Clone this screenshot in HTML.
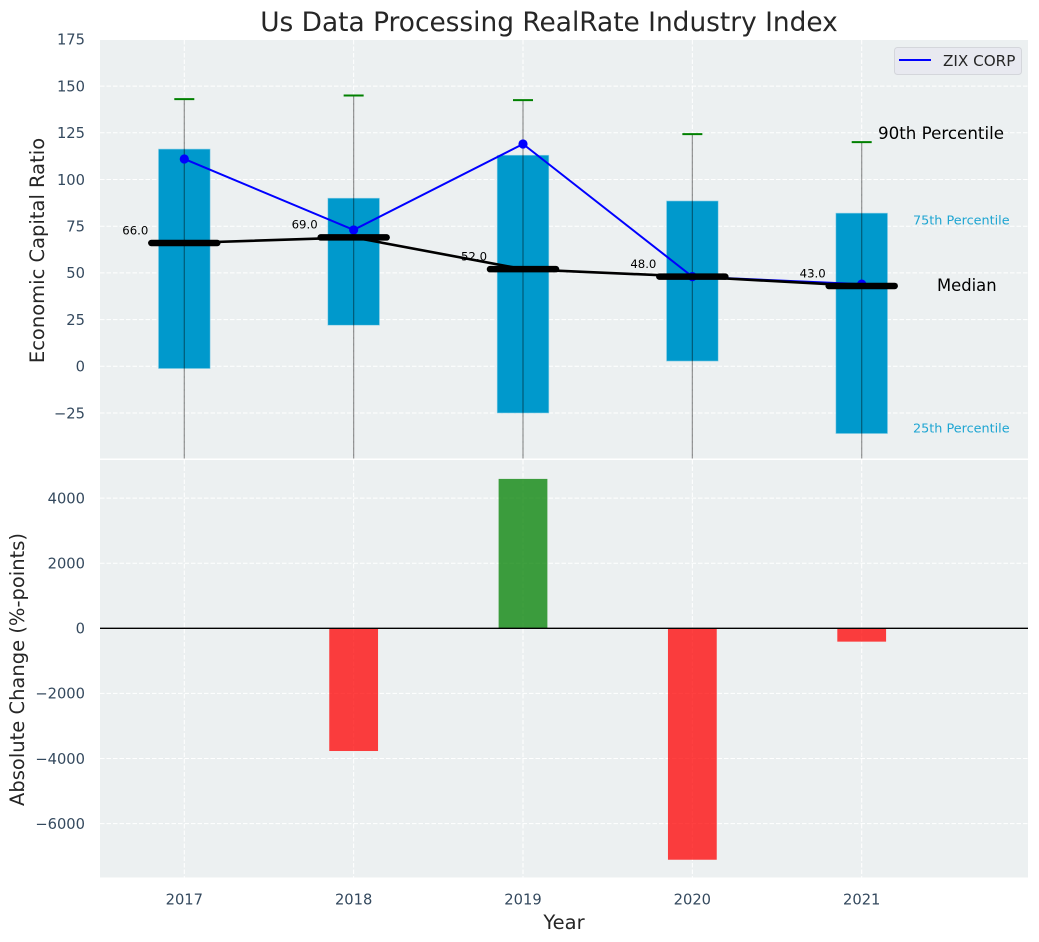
<!DOCTYPE html>
<html lang="en">
<head>
<meta charset="utf-8">
<title>Us Data Processing RealRate Industry Index</title>
<style>
html,body{margin:0;padding:0;background:#fff;width:1039px;height:942px;overflow:hidden}
svg{display:block;font-family:"DejaVu Sans","Liberation Sans",sans-serif}
</style>
</head>
<body>
<svg id="chart" width="1039" height="942" viewBox="0 0 1039 942" xmlns="http://www.w3.org/2000/svg">
  <text x="549" y="31" text-anchor="middle" font-size="26.4px" fill="#262626">Us Data Processing RealRate Industry Index</text>
  <rect x="100" y="40" width="928" height="418.5" fill="#ecf0f1"/>
  <rect x="100" y="460" width="928" height="417.5" fill="#ecf0f1"/>
  <defs>
    <clipPath id="topClip"><rect x="100" y="40" width="928" height="418.5"/></clipPath>
    <clipPath id="bottomClip"><rect x="100" y="460" width="928" height="417.5"/></clipPath>
  </defs>
  <g id="grid"></g>
  <g id="topMarks" clip-path="url(#topClip)"></g>
  <g id="bottomMarks" clip-path="url(#bottomClip)"></g>
  <g id="ticks"></g>
  <text transform="translate(44 250.5) rotate(-90)" text-anchor="middle" font-size="19.5px" fill="#262626">Economic Capital Ratio</text>
  <text transform="translate(24 669.500) rotate(-90)" text-anchor="middle" font-size="19.5px" fill="#262626">Absolute Change (%-points)</text>
  <text x="564" y="929" text-anchor="middle" font-size="19.5px" fill="#262626">Year</text>
  <g>
    <rect x="894.5" y="47.5" width="127" height="27" rx="3" fill="#e8e9f0" stroke="#d4d6db" stroke-width="1"/>
    <line x1="899" y1="60" x2="931" y2="60" stroke="#0000ff" stroke-width="2"/>
    <text x="943" y="66" font-size="15.2px" fill="#262626">ZIX CORP</text>
  </g>
  <text x="878" y="139" font-size="16.7px" fill="#000">90th Percentile</text>
  <text x="913" y="224.500" font-size="12.8px" fill="#1ea5d2">75th Percentile</text>
  <text x="937" y="291" font-size="16.4px" fill="#000">Median</text>
  <text x="913" y="432.500" font-size="12.8px" fill="#1ea5d2">25th Percentile</text>
</svg>
<script>
const years = [2017, 2018, 2019, 2020, 2021];
const p90 = [143, 145, 142.5, 124.3, 120];
const p75 = [116.3, 90, 113, 88.5, 82];
const medians = [66, 69, 52, 48, 43];
const p25 = [-1.2, 22, -25, 2.8, -36];
const p10 = [-60, -60, -60, -60, -60];
const company = [111, 73, 119, 48, 44];
const changes = [null, -3770, 4590, -7110, -410];
const topTicks = [175, 150, 125, 100, 75, 50, 25, 0, -25];
const bottomTicks = [4000, 2000, 0, -2000, -4000, -6000];

const NS = 'http://www.w3.org/2000/svg';
const xPos = v => 184.3 + (v - 2017) * 169.35;
const yTop = v => 366.3 - v * 1.868;
const yBottom = v => 628.3 - v * 0.03255;
const fmtTick = v => (v < 0 ? '\u2212' + Math.abs(v) : String(v));

function make(parent, tag, attrs, text) {
  const el = document.createElementNS(NS, tag);
  for (const k in attrs) el.setAttribute(k, attrs[k]);
  if (text !== undefined) el.textContent = text;
  parent.appendChild(el);
  return el;
}

const grid = document.getElementById('grid');
const topMarks = document.getElementById('topMarks');
const bottomMarks = document.getElementById('bottomMarks');
const ticks = document.getElementById('ticks');
const gridStyle = { stroke: '#ffffff', 'stroke-width': 1, 'stroke-dasharray': '4.5 2' };

topTicks.forEach(v => {
  const y = yTop(v);
  const g = make(grid, 'line', Object.assign({ x1: 100, x2: 1028, y1: y, y2: y }, gridStyle));
  
  
  const t = make(ticks, 'text', { x: 85, y: y + 5.3, 'text-anchor': 'end', 'font-size': '14.7px', fill: '#34495e' }, fmtTick(v));
  
  
});
bottomTicks.forEach(v => {
  const y = yBottom(v);
  const g = make(grid, 'line', Object.assign({ x1: 100, x2: 1028, y1: y, y2: y }, gridStyle));
  
  
  const t = make(ticks, 'text', { x: 85, y: y + 5.3, 'text-anchor': 'end', 'font-size': '14.7px', fill: '#34495e' }, fmtTick(v));
  
  
});
years.forEach(yr => {
  const x = xPos(yr);
  const g1 = make(grid, 'line', Object.assign({ x1: x, x2: x, y1: 40, y2: 458.5 }, gridStyle));
  
  
  const g2 = make(grid, 'line', Object.assign({ x1: x, x2: x, y1: 460, y2: 877.5 }, gridStyle));
  
  
  const t = make(ticks, 'text', { x: x, y: 904.5, 'text-anchor': 'middle', 'font-size': '14.7px', fill: '#34495e' }, String(yr));
  
  
});

/* interquartile boxes */
years.forEach((yr, i) => {
  const x = xPos(yr);
  const w = 0.305 * 169.35;
  const b = make(topMarks, 'rect', {
    x: x - w / 2, y: yTop(p75[i]), width: w, height: yTop(p25[i]) - yTop(p75[i]),
    fill: '#0099cc', stroke: '#8fd0e6', 'stroke-width': 0.6
  });
  
  
});

/* whiskers and 90th percentile caps */
years.forEach((yr, i) => {
  const x = xPos(yr);
  const l = make(topMarks, 'line', { x1: x, x2: x, y1: yTop(p90[i]), y2: yTop(p10[i]), stroke: '#000', 'stroke-opacity': 0.42, 'stroke-width': 1.2 });
  
  
  const c = make(topMarks, 'line', { x1: x - 10, x2: x + 10, y1: yTop(p90[i]), y2: yTop(p90[i]), stroke: '#008000', 'stroke-width': 2 });
  
  
});

/* company line */
const companyLine = make(topMarks, 'polyline', {
  points: years.map((yr, i) => xPos(yr) + ',' + yTop(company[i])).join(' '),
  fill: 'none', stroke: '#0000ff', 'stroke-width': 2
});


years.forEach((yr, i) => {
  const p = make(topMarks, 'circle', { cx: xPos(yr), cy: yTop(company[i]), r: 4.6, fill: '#0000ff' });
  
  
});

/* median value labels sit beneath the median line */
years.forEach((yr, i) => {
  const t = make(topMarks, 'text', { x: xPos(yr) - 49, y: yTop(medians[i]) - 8.7, 'text-anchor': 'middle', 'font-size': '11.7px', fill: '#000' }, medians[i].toFixed(1));
  
  
});

const medianLine = make(topMarks, 'polyline', {
  points: years.map((yr, i) => xPos(yr) + ',' + yTop(medians[i])).join(' '),
  fill: 'none', stroke: '#000', 'stroke-width': 2.6
});


years.forEach((yr, i) => {
  const x = xPos(yr);
  const m = make(topMarks, 'line', { x1: x - 33, x2: x + 33, y1: yTop(medians[i]), y2: yTop(medians[i]), stroke: '#000', 'stroke-width': 6.5, 'stroke-linecap': 'round' });
  
  
});

/* change bars */
years.forEach((yr, i) => {
  const v = changes[i];
  if (v === null) return;
  const w = 0.288 * 169.35;
  const y0 = yBottom(0);
  const y1 = yBottom(v);
  const b = make(bottomMarks, 'rect', {
    x: xPos(yr) - w / 2, y: Math.min(y0, y1), width: w, height: Math.abs(y1 - y0),
    fill: v >= 0 ? '#008000' : '#ff0000', 'fill-opacity': 0.75
  });
  
  
});
const zero = make(bottomMarks, 'line', { x1: 100, x2: 1028, y1: yBottom(0), y2: yBottom(0), stroke: '#000', 'stroke-width': 1.3 });


</script>
</body>
</html>
